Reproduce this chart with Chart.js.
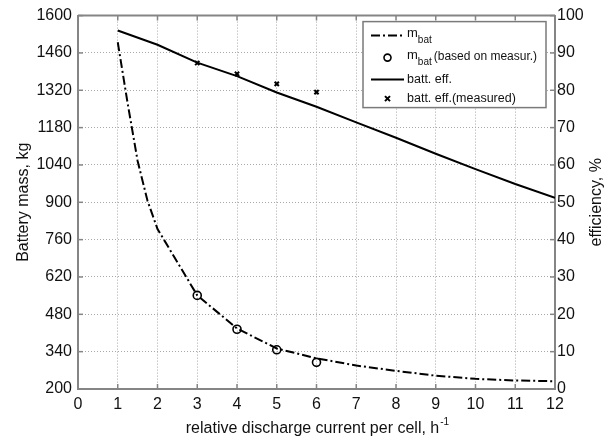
<!DOCTYPE html>
<html><head><meta charset="utf-8">
<script src="https://cdn.jsdelivr.net/npm/chart.js@4.4.0/dist/chart.umd.min.js"></script>
<style>html,body{margin:0;padding:0;background:#fff;}#wrap{width:614px;height:439px;}</style>
</head><body><div id="wrap"><canvas id="c" width="614" height="439"></canvas></div>
<script>
// ---- data ----
const massX = [1, 1.25, 1.5, 1.75, 2, 3, 4, 5, 6, 7, 8, 9, 10, 11, 12];
const massY = [1500, 1270, 1055, 905, 800, 551, 427, 352, 315, 288, 268, 250, 238, 232, 229];
const massMeasX = [3, 4, 5, 6];
const massMeasY = [551, 424, 347, 300];
const effX = [1, 2, 3, 4, 5, 6, 7, 8, 9, 10, 11, 12];
const effY = [96.0, 92.2, 87.4, 83.8, 79.4, 75.6, 71.4, 67.3, 63.0, 58.9, 54.9, 51.2];
const effMeasX = [3, 4, 5, 6];
const effMeasY = [87.3, 84.4, 81.7, 79.5];
const xTickValues = [0,1,2,3,4,5,6,7,8,9,10,11,12];
const massTickValues = [200,340,480,620,760,900,1040,1180,1320,1460,1600];
const effTickValues = [0,10,20,30,40,50,60,70,80,90,100];

const FONT = '"Liberation Sans", Arial, sans-serif';
const AXIS_GRAY = '#858585';
const pts = (xs, ys) => xs.map((x, i) => ({x, y: ys[i]}));

const datasets = [
  {label: 'm_bat', data: pts(massX, massY), yAxisID: 'yL', borderColor: '#000', borderWidth: 2,
   borderDash: [9, 3, 2, 3], pointRadius: 0, fill: false, tension: 0},
  {label: 'm_bat (based on measur.)', data: pts(massMeasX, massMeasY), yAxisID: 'yL', showLine: false,
   pointStyle: 'circle', pointRadius: 4, pointBorderWidth: 1.6, pointBorderColor: '#000', pointBackgroundColor: 'rgba(0,0,0,0)'},
  {label: 'batt. eff.', data: pts(effX, effY), yAxisID: 'yR', borderColor: '#000', borderWidth: 2,
   pointRadius: 0, fill: false, tension: 0},
  {label: 'batt. eff.(measured)', data: pts(effMeasX, effMeasY), yAxisID: 'yR', showLine: false,
   pointStyle: 'crossRot', pointRadius: 3, pointBorderWidth: 2, pointBorderColor: '#000'}
];

const frame = {
  id: 'frame',
  afterDraw(chart) {
    const {ctx, chartArea: a, scales} = chart;
    ctx.save();
    // top border
    ctx.strokeStyle = AXIS_GRAY; ctx.lineWidth = 2;
    ctx.beginPath(); ctx.moveTo(a.left, a.top); ctx.lineTo(a.right, a.top); ctx.stroke();
    // inward tick marks
    ctx.lineWidth = 1.5;
    const L = 5;
    xTickValues.forEach(v => {
      const px = scales.x.getPixelForValue(v);
      ctx.beginPath(); ctx.moveTo(px, a.bottom); ctx.lineTo(px, a.bottom - L);
      ctx.moveTo(px, a.top); ctx.lineTo(px, a.top + L); ctx.stroke();
    });
    massTickValues.forEach(v => {
      const py = scales.yL.getPixelForValue(v);
      ctx.beginPath(); ctx.moveTo(a.left, py); ctx.lineTo(a.left + L, py); ctx.stroke();
    });
    effTickValues.forEach(v => {
      const py = scales.yR.getPixelForValue(v);
      ctx.beginPath(); ctx.moveTo(a.right, py); ctx.lineTo(a.right - L, py); ctx.stroke();
    });
    // axis titles
    ctx.fillStyle = '#111';
    ctx.font = '16px ' + FONT;
    const midY = (a.top + a.bottom) / 2;
    ctx.textAlign = 'center'; ctx.textBaseline = 'middle';
    ctx.save(); ctx.translate(24, midY); ctx.rotate(-Math.PI / 2);
    ctx.fillText('Battery mass, kg', 0, 0); ctx.restore();
    ctx.save(); ctx.translate(597, midY); ctx.rotate(-Math.PI / 2);
    ctx.fillText('efficiency, %', 0, 0); ctx.restore();
    const xt = 'relative discharge current per cell, h';
    const xw = ctx.measureText(xt).width;
    const cx = (a.left + a.right) / 2 - 4;
    ctx.textAlign = 'left';
    ctx.fillText(xt, cx - xw / 2, 429);
    ctx.font = '10px ' + FONT;
    ctx.fillText('-1', cx + xw / 2 + 1, 422);

    // legend
    const bx = a.right - 192, by = a.top + 6, bw = 183, bh = 86;
    ctx.fillStyle = '#fff'; ctx.fillRect(bx, by, bw, bh);
    ctx.strokeStyle = '#7a7a7a'; ctx.lineWidth = 1.5; ctx.setLineDash([]);
    ctx.strokeRect(bx, by, bw, bh);
    const rows = [by + 14, by + 36, by + 58, by + 77];
    const sx0 = bx + 8, sx1 = bx + 41, tx = bx + 44;
    ctx.strokeStyle = '#000'; ctx.lineWidth = 2;
    ctx.setLineDash([9, 3, 2, 3]);
    ctx.beginPath(); ctx.moveTo(sx0, rows[0]); ctx.lineTo(sx1, rows[0]); ctx.stroke();
    ctx.setLineDash([]);
    ctx.lineWidth = 1.6;
    ctx.beginPath(); ctx.arc((sx0 + sx1) / 2, rows[1], 3.5, 0, Math.PI * 2); ctx.stroke();
    ctx.lineWidth = 2;
    ctx.beginPath(); ctx.moveTo(sx0, rows[2]); ctx.lineTo(sx1, rows[2]); ctx.stroke();
    const mx = (sx0 + sx1) / 2, r = 2.5;
    ctx.beginPath(); ctx.moveTo(mx - r, rows[3] - r); ctx.lineTo(mx + r, rows[3] + r);
    ctx.moveTo(mx + r, rows[3] - r); ctx.lineTo(mx - r, rows[3] + r); ctx.stroke();
    ctx.fillStyle = '#111'; ctx.textAlign = 'left'; ctx.textBaseline = 'middle';
    const subText = (y, rest) => {
      ctx.font = '13px ' + FONT;
      ctx.fillText('m', tx, y - 2);
      let w = ctx.measureText('m').width;
      ctx.font = '10px ' + FONT;
      ctx.fillText('bat', tx + w, y + 5);
      w += ctx.measureText('bat').width;
      if (rest) { ctx.font = '12px ' + FONT; ctx.fillText(rest, tx + w + 2, y - 1); }
    };
    subText(rows[0], '');
    subText(rows[1], '(based on measur.)');
    ctx.font = '12.5px ' + FONT;
    ctx.fillText('batt. eff.', tx, rows[2]);
    ctx.fillText('batt. eff.(measured)', tx, rows[3]);
    ctx.restore();
  }
};

const gridCommon = {color: '#a8a8a8', lineWidth: 1, drawTicks: false};
const plainLabel = v => String(v);
new Chart(document.getElementById('c'), {
  type: 'line',
  data: {datasets},
  options: {
    responsive: false, animation: false, devicePixelRatio: 1,
    layout: {padding: {top: 14, left: 0, right: 0, bottom: 0}},
    plugins: {legend: {display: false}, tooltip: {enabled: false}},
    scales: {
      x: {type: 'linear', min: 0, max: 12,
          afterFit: s => { s.height = 50; },
          afterBuildTicks: s => { s.ticks = xTickValues.map(v => ({value: v})); },
          ticks: {font: {family: FONT, size: 16}, color: '#111', padding: 6, maxRotation: 0, autoSkip: false, callback: plainLabel},
          grid: gridCommon,
          border: {display: true, color: AXIS_GRAY, width: 2, dash: [1, 2]}},
      yL: {type: 'linear', position: 'left', min: 200, max: 1600,
          afterFit: s => { s.width = 78; },
          afterBuildTicks: s => { s.ticks = massTickValues.map(v => ({value: v})); },
          ticks: {font: {family: FONT, size: 16}, color: '#111', padding: 6, autoSkip: false, callback: plainLabel},
          grid: gridCommon,
          border: {display: true, color: AXIS_GRAY, width: 2, dash: [1, 2]}},
      yR: {type: 'linear', position: 'right', min: 0, max: 100,
          afterFit: s => { s.width = 59; },
          afterBuildTicks: s => { s.ticks = effTickValues.map(v => ({value: v})); },
          ticks: {font: {family: FONT, size: 16}, color: '#111', padding: 2, autoSkip: false, callback: plainLabel},
          grid: {drawOnChartArea: false, drawTicks: false},
          border: {display: true, color: AXIS_GRAY, width: 2}}
    }
  },
  plugins: [frame]
});
</script>
</body></html>
